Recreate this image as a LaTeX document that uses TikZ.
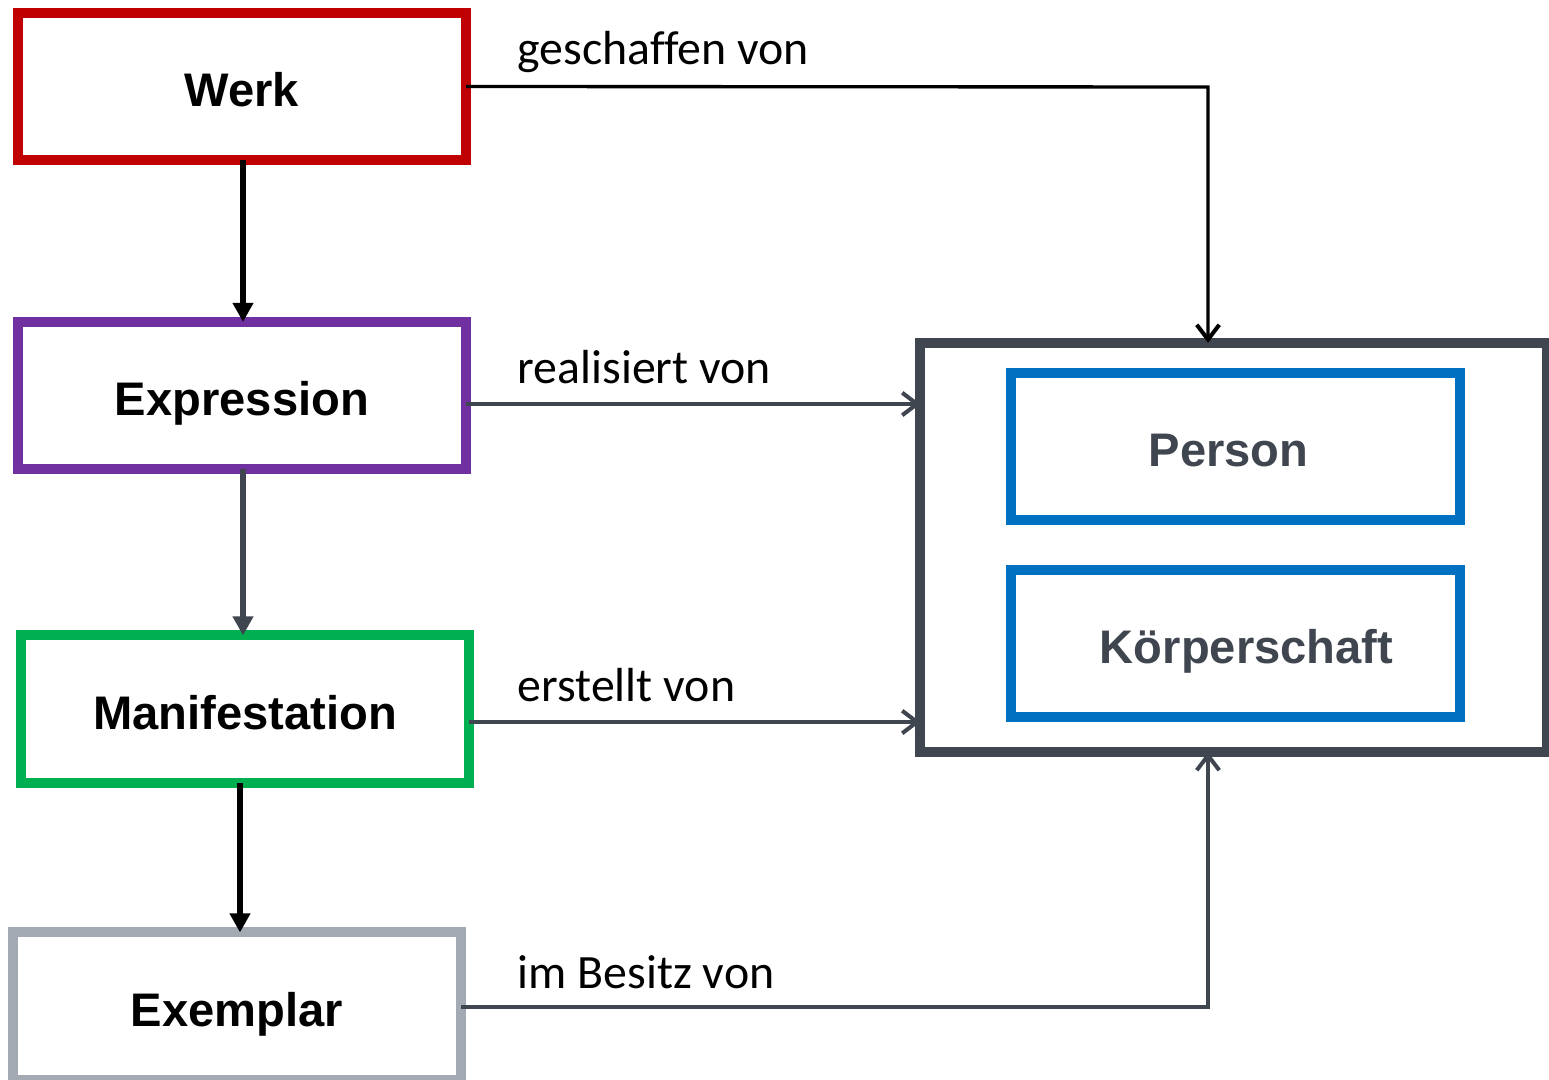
\documentclass[tikz,border=0pt]{standalone}
\usepackage{fontspec}
\setmainfont{Carlito}[Ligatures=NoCommon]
\newfontfamily\arialfont{Liberation Sans}
\usetikzlibrary{arrows.meta}
\definecolor{wred}{HTML}{C00000}
\definecolor{wpurple}{HTML}{7030A0}
\definecolor{wgreen}{HTML}{00B050}
\definecolor{wgray}{HTML}{A3AAB4}
\definecolor{wblue}{HTML}{0070C0}
\definecolor{wdark}{HTML}{404650}
\tikzset{
  entity/.style={draw, rectangle, line width=2.85pt, minimum width=4.48cm, minimum height=1.47cm,
    inner sep=0pt, outer sep=0pt, text height=11.5pt, text depth=0pt,
    font=\arialfont\bfseries\fontsize{13.4pt}{16pt}\selectfont},
  rel/.style={font=\fontsize{13.6pt}{16pt}\selectfont, anchor=base west, inner sep=0pt},
  thick arrow/.style={line width=1.55pt, -{Triangle[length=5.4pt,width=5.6pt]}},
  thin arrow/.style={line width=0.95pt, -{Straight Barb[length=4.2pt,width=6.4pt,line width=1.15pt]}},
}
\begin{document}
\begin{tikzpicture}[x=0.01cm,y=-0.01cm]
\useasboundingbox (0,0) rectangle (1549,1079);
% boxes
\node[entity, draw=wred] (werk) at (242,86.5) {Werk};
\node[entity, draw=wpurple] (expression) at (242,395.5) {Expression};
\node[entity, draw=wgreen] (manifestation) at (245,709) {Manifestation};
\node[entity, draw=wgray] (exemplar) at (237,1006) {Exemplar};
\node[draw=wdark, rectangle, line width=2.85pt, minimum width=6.26cm, minimum height=4.09cm, inner sep=0pt, outer sep=0pt] (outer) at (1233.5,547.5) {};
\node[entity, draw=wblue, text=wdark] (person) at (1235.5,446.5) {Person\hspace*{0.14cm}};
\node[entity, draw=wblue, text=wdark] (koerper) at (1235.5,643.5) {\hspace*{0.22cm}Körperschaft};
% labels
\node[rel] (l1) at (517,65) {geschaffen von};
\node[rel] (l2) at (517,383) {realisiert von};
\node[rel] (l3) at (517,701) {erstellt von};
\node[rel] (l4) at (517,988) {im Besitz von};
% helper coordinates
\coordinate (c1) at (1208,87);
\coordinate (r1) at (0,404);
\coordinate (r2) at (0,722);
\coordinate (c2) at (1208,1007);
\coordinate (v1) at (243,0);
\coordinate (v2) at (240,0);
% vertical hierarchy
\draw[thick arrow, black] (werk.south -| v1) -- (expression.north -| v1);
\draw[thick arrow, wdark] (expression.south -| v1) -- (manifestation.north -| v1);
\draw[thick arrow, black] (manifestation.south -| v2) -- (exemplar.north -| v2);
% relations
\draw[thin arrow, black] (werk.east) -- (c1) -- (c1 |- outer.north);
\draw[thin arrow, wdark] (expression.east |- r1) -- (outer.west |- r1);
\draw[thin arrow, wdark] (manifestation.east |- r2) -- (outer.west |- r2);
\draw[thin arrow, wdark] (exemplar.east |- c2) -- (c2) -- (c2 |- outer.south);
\end{tikzpicture}
\end{document}
